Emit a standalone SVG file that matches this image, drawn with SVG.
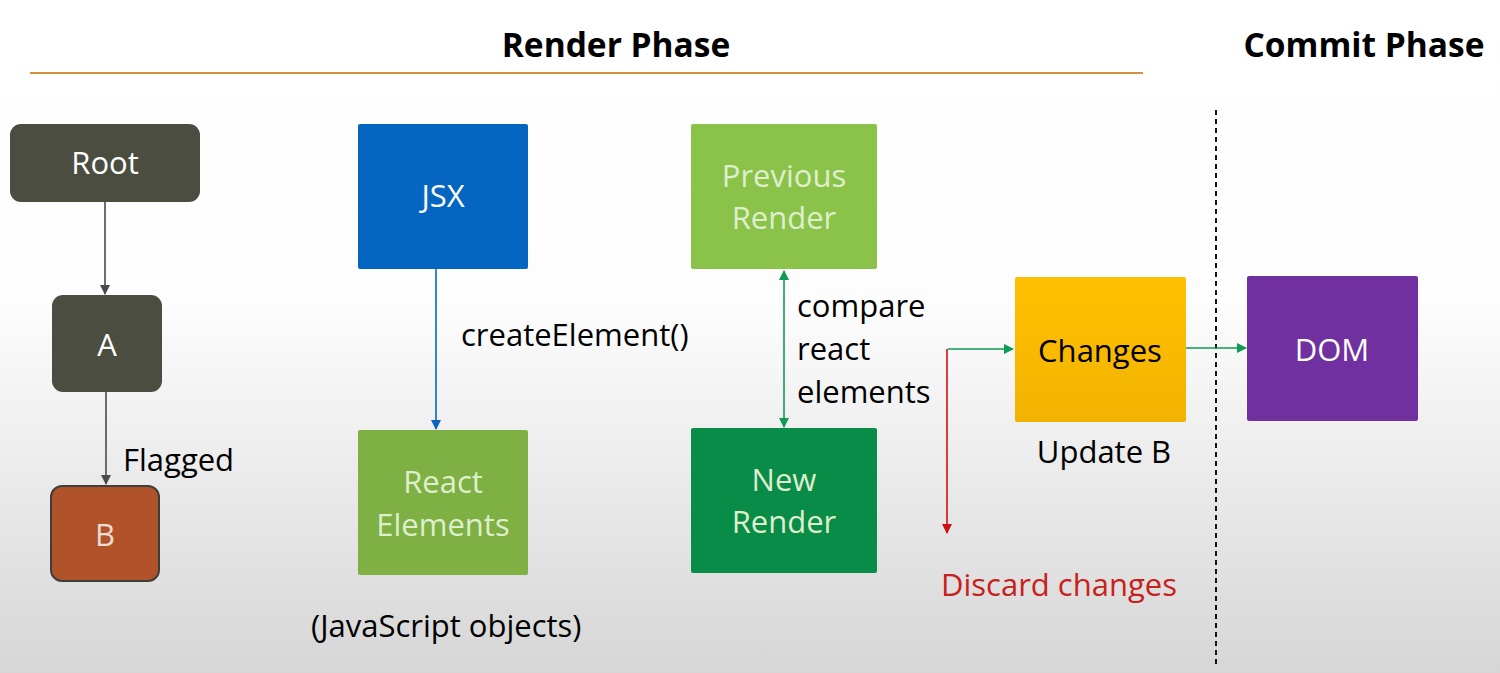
<svg xmlns="http://www.w3.org/2000/svg" width="1500" height="673" viewBox="0 0 1500 673">
<defs>
<linearGradient id="bg" x1="0" y1="0" x2="0" y2="1">
<stop offset="0" stop-color="#ffffff"/>
<stop offset="0.45" stop-color="#fdfdfd"/>
<stop offset="1" stop-color="#d6d6d6"/>
</linearGradient>
<linearGradient id="gChanges" x1="0" y1="0" x2="0" y2="1">
<stop offset="0" stop-color="#ffc000"/>
<stop offset="1" stop-color="#f2b300"/>
</linearGradient>
<marker id="mGray" markerWidth="10" markerHeight="10" refX="9" refY="5" orient="auto" markerUnits="userSpaceOnUse"><path d="M0,0 L10,5 L0,10 z" fill="#4a4a4a"/></marker>
<marker id="mBlue" markerWidth="10" markerHeight="10" refX="9" refY="5" orient="auto" markerUnits="userSpaceOnUse"><path d="M0,0 L10,5 L0,10 z" fill="#0a64c0"/></marker>
<marker id="mGreen" markerWidth="10" markerHeight="10" refX="9" refY="5" orient="auto-start-reverse" markerUnits="userSpaceOnUse"><path d="M0,0 L10,5 L0,10 z" fill="#0f9a55"/></marker>
<marker id="mRed" markerWidth="10" markerHeight="10" refX="9" refY="5" orient="auto" markerUnits="userSpaceOnUse"><path d="M0,0 L10,5 L0,10 z" fill="#d01010"/></marker>
<style>
text{font-family:"Open Sans","Noto Sans","Liberation Sans",sans-serif;}
.t{font-size:31px;fill:#000;}
.red{fill:#c8201a;}
.h{font-size:33.5px;font-weight:bold;fill:#000;}
.nl{font-size:31px;text-anchor:middle;}
.w{fill:#ffffff;}
.lg{fill:#dfeecd;}
.bk{fill:#000;}
.bl{fill:#eddcd0;}
</style>
</defs>
<rect width="1500" height="673" fill="url(#bg)"/>
<g id="headers">
<text class="h" x="616" y="57" text-anchor="middle">Render Phase</text>
<text class="h" x="1364" y="57" text-anchor="middle">Commit Phase</text>
<line x1="30" y1="73" x2="1143" y2="73" stroke="#d4923a" stroke-width="2"/>
<line x1="1216" y1="110" x2="1216" y2="665" stroke="#111" stroke-width="2" stroke-dasharray="5 4"/>
</g>
<g id="connectors" fill="none" stroke-width="1.6">
<line x1="105" y1="202" x2="105" y2="294" stroke="#4a4a4a" marker-end="url(#mGray)"/>
<line x1="106" y1="392" x2="106" y2="484" stroke="#4a4a4a" marker-end="url(#mGray)"/>
<line x1="436" y1="269" x2="436" y2="429" stroke="#0a64c0" marker-end="url(#mBlue)"/>
<line x1="784" y1="271" x2="784" y2="427" stroke="#0f9a55" marker-start="url(#mGreen)" marker-end="url(#mGreen)"/>
<polyline points="948,349 1013,349" stroke="#0f9a55" marker-end="url(#mGreen)"/>
<line x1="947" y1="349" x2="947" y2="533" stroke="#d01010" marker-end="url(#mRed)"/>
<line x1="1186" y1="348" x2="1246" y2="348" stroke="#0f9a55" marker-end="url(#mGreen)"/>
</g>
<g id="node-root">
<rect x="10" y="124" width="190" height="78" rx="11" fill="#4a4d40"/>
<text class="nl w" x="105" y="174">Root</text>
</g>
<g id="node-a">
<rect x="52" y="295" width="110" height="97" rx="11" fill="#4a4d40"/>
<text class="nl w" x="107" y="356">A</text>
</g>
<g id="node-b">
<rect x="51" y="486" width="108" height="95" rx="11" fill="#b0522a" stroke="#3e3e3a" stroke-width="2"/>
<text class="nl bl" x="105" y="546">B</text>
</g>
<text class="t" x="123" y="471">Flagged</text>
<g id="node-jsx">
<rect x="358" y="124" width="170" height="145" rx="2" fill="#0566c2"/>
<text class="nl w" x="443" y="207">JSX</text>
</g>
<text class="t" x="461" y="346">createElement()</text>
<g id="node-react-elements">
<rect x="358" y="430" width="170" height="145" rx="2" fill="#7eb043"/>
<text class="nl lg" x="443" y="493">React</text>
<text class="nl lg" x="443" y="536">Elements</text>
</g>
<text class="t" x="311" y="637">(JavaScript objects)</text>
<g id="node-previous-render">
<rect x="691" y="124" width="186" height="145" rx="2" fill="#8bc34a"/>
<text class="nl lg" x="784" y="187">Previous</text>
<text class="nl lg" x="784" y="229">Render</text>
</g>
<g id="node-new-render">
<rect x="691" y="428" width="186" height="145" rx="2" fill="#098c47"/>
<text class="nl lg" x="784" y="491">New</text>
<text class="nl lg" x="784" y="533">Render</text>
</g>
<text class="t" x="797" y="317">compare</text>
<text class="t" x="797" y="360">react</text>
<text class="t" x="797" y="403">elements</text>
<g id="node-changes">
<rect x="1015" y="277" width="171" height="145" rx="2" fill="url(#gChanges)"/>
<text class="nl bk" x="1100" y="362">Changes</text>
</g>
<text class="t" x="1104" y="463" text-anchor="middle">Update B</text>
<text class="t red" x="941" y="596">Discard changes</text>
<g id="node-dom">
<rect x="1247" y="276" width="171" height="145" rx="2" fill="#7030a0"/>
<text class="nl w" x="1332" y="361">DOM</text>
</g>
</svg>
